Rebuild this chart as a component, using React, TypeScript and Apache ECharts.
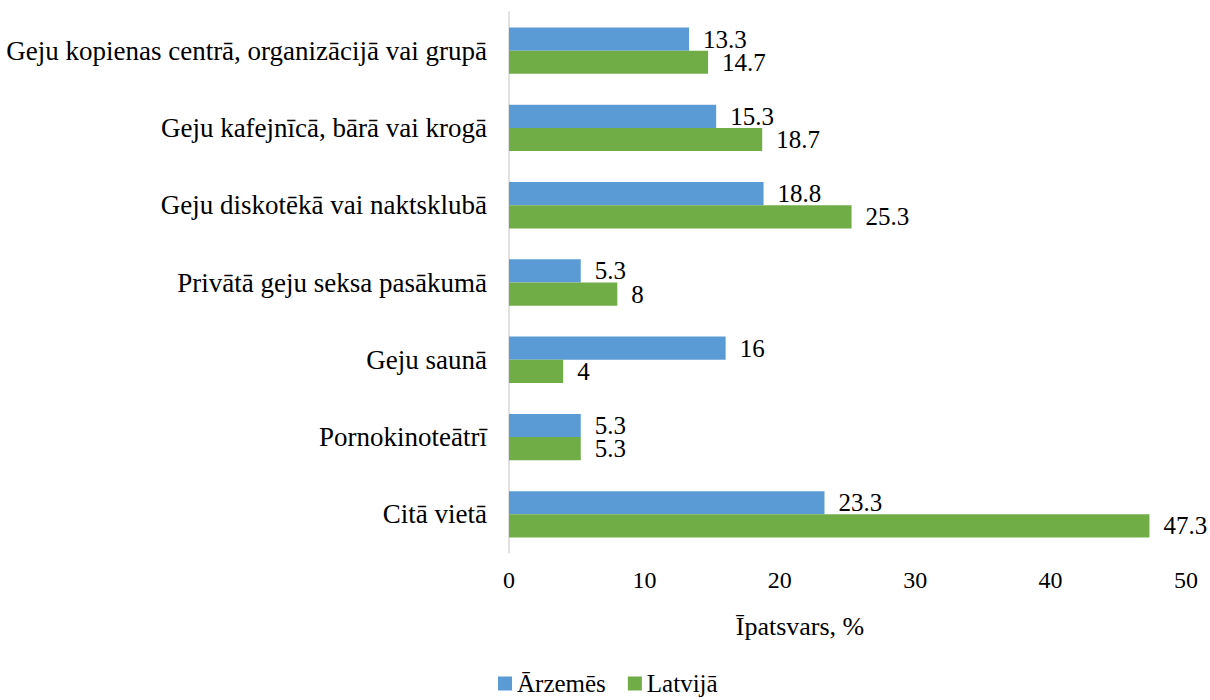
import React, { useEffect, useRef } from "react";
import * as echarts from "echarts";

const categories = [
  "Geju kopienas centrā, organizācijā vai grupā",
  "Geju kafejnīcā, bārā vai krogā",
  "Geju diskotēkā vai naktsklubā",
  "Privātā geju seksa pasākumā",
  "Geju saunā",
  "Pornokinoteātrī",
  "Citā vietā",
];
const arzemes = [13.3, 15.3, 18.8, 5.3, 16, 5.3, 23.3];
const latvija = [14.7, 18.7, 25.3, 8, 4, 5.3, 47.3];
const seriesNames = ["Ārzemēs", "Latvijā"];
const axisTitle = "Īpatsvars, %";

const FONT = "Liberation Serif";

export default function App() {
  const ref = useRef<HTMLDivElement>(null);
  useEffect(() => {
    if (!ref.current) return;
    const chart = echarts.init(ref.current, undefined, { renderer: "svg" });
    const labelStyle = {
      show: true,
      position: "right" as const,
      distance: 14,
      fontFamily: FONT,
      fontSize: 25,
      lineHeight: 22,
      color: "#000",
    };
    chart.setOption({
      animation: false,
      textStyle: { fontFamily: FONT },
      grid: { left: 509, right: 24, top: 12, bottom: 147, containLabel: false },
      xAxis: {
        type: "value",
        min: 0,
        max: 50,
        interval: 10,
        axisLine: { show: false },
        axisTick: { show: false },
        splitLine: { show: false },
        axisLabel: { fontFamily: FONT, fontSize: 24, color: "#000", margin: 15 },
      },
      yAxis: {
        type: "category",
        data: categories,
        inverse: true,
        axisLine: { show: true, lineStyle: { color: "#d9d9d9", width: 1.5 } },
        axisTick: { show: false },
        axisLabel: { fontFamily: FONT, fontSize: 27, color: "#000", margin: 22 },
      },
      legend: {
        top: 666,
        left: 493,
        icon: "rect",
        itemWidth: 14,
        itemHeight: 14,
        itemGap: 22,
        textStyle: { fontFamily: FONT, fontSize: 25, lineHeight: 24, color: "#000" },
        data: seriesNames,
      },
      graphic: [
        {
          type: "text",
          x: 800,
          y: 626,
          style: {
            text: axisTitle,
            fontFamily: FONT,
            fontSize: 26,
            fill: "#000",
            align: "center",
            verticalAlign: "middle",
          },
        },
      ],
      series: [
        {
          name: seriesNames[0],
          type: "bar",
          data: arzemes,
          barGap: "0%",
          barCategoryGap: "40%",
          itemStyle: { color: "#5B9BD5" },
          label: labelStyle,
        },
        {
          name: seriesNames[1],
          type: "bar",
          data: latvija,
          barGap: "0%",
          barCategoryGap: "40%",
          itemStyle: { color: "#70AD47" },
          label: labelStyle,
        },
      ],
    });
    return () => chart.dispose();
  }, []);
  return (
    <div
      ref={ref}
      style={{ position: "absolute", left: 0, top: 0, width: 1210, height: 700 }}
    />
  );
}
